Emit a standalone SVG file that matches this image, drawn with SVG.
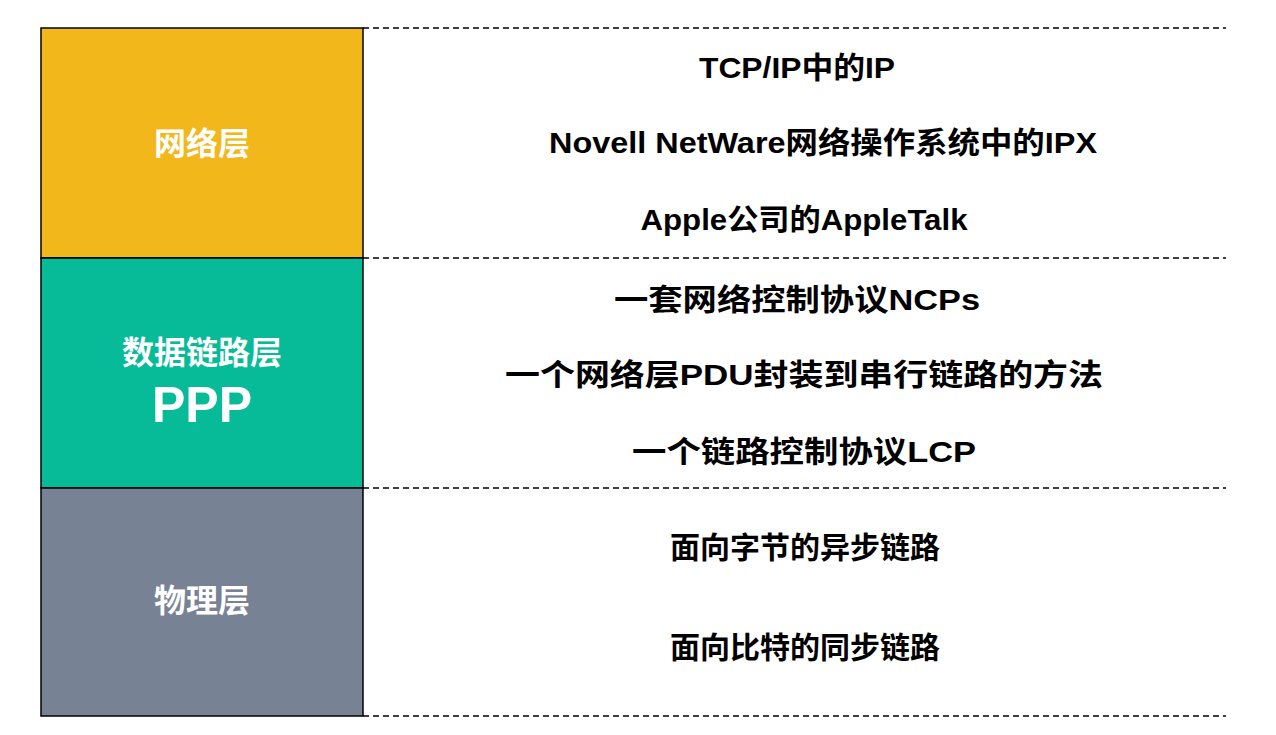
<svg xmlns="http://www.w3.org/2000/svg" width="1276" height="735" viewBox="0 0 1276 735">
<style>
.l{font-family:"Liberation Sans","Noto Sans CJK SC",sans-serif;font-weight:bold;fill:#fff;text-anchor:middle}
.t{font-family:"Liberation Sans","Noto Sans CJK SC",sans-serif;font-weight:bold;font-size:30px;fill:#000;text-anchor:middle}
.d{stroke:#000;stroke-width:1.3;stroke-dasharray:6,4;fill:none}
</style>
<rect width="1276" height="735" fill="#fff"/>
<g id="net"><rect x="41" y="28" width="322" height="230" fill="#F2B81B" stroke="#000" stroke-width="1.5"/><text class="l" x="202" y="155" font-size="32">网络层</text></g>
<g id="link"><rect x="41" y="258" width="322" height="230" fill="#07BA98" stroke="#000" stroke-width="1.5"/><text class="l" x="202" y="364" font-size="32">数据链路层</text><text class="l" x="202" y="422" font-size="50">PPP</text></g>
<g id="phy"><rect x="41" y="488" width="322" height="228" fill="#778294" stroke="#000" stroke-width="1.5"/><text class="l" x="202" y="612" font-size="32">物理层</text></g>
<g id="lines">
<path class="d" d="M363 28H1226M363 258H1226M363 488H1226M363 716H1226"/>
</g>
<g id="texts">
<text class="t" x="797" y="78" textLength="196" lengthAdjust="spacingAndGlyphs">TCP/IP中的IP</text>
<text class="t" x="823" y="153" textLength="548" lengthAdjust="spacingAndGlyphs">Novell NetWare网络操作系统中的IPX</text>
<text class="t" x="804" y="230" textLength="327" lengthAdjust="spacingAndGlyphs">Apple公司的AppleTalk</text>
<text class="t" x="797" y="310" textLength="366" lengthAdjust="spacingAndGlyphs">一套网络控制协议NCPs</text>
<text class="t" x="804" y="385" textLength="598" lengthAdjust="spacingAndGlyphs">一个网络层PDU封装到串行链路的方法</text>
<text class="t" x="804" y="462" textLength="344" lengthAdjust="spacingAndGlyphs">一个链路控制协议LCP</text>
<text class="t" x="805" y="558">面向字节的异步链路</text>
<text class="t" x="805" y="658">面向比特的同步链路</text>
</g>
</svg>
